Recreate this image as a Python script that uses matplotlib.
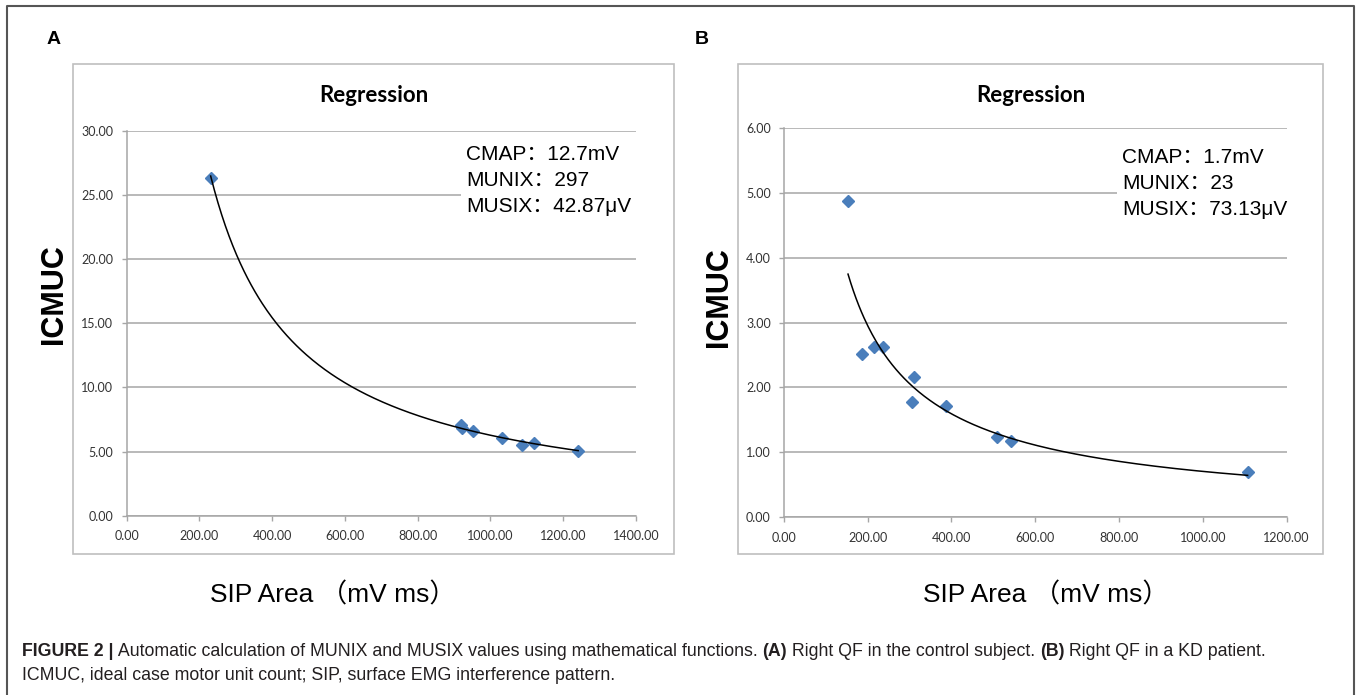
import numpy as np
import matplotlib
matplotlib.use('Agg')
import matplotlib.pyplot as plt
from matplotlib.patches import Rectangle
from matplotlib.lines import Line2D

plt.rcParams['font.family'] = ['Liberation Sans', 'Noto Sans CJK SC', 'DejaVu Sans']

W, H = 1357, 695

# panel A: right QF, control subject
sip_a = [231, 920, 922, 952, 1031, 1088, 1120, 1241]
icmuc_a = [26.3, 7.1, 6.85, 6.63, 6.06, 5.47, 5.65, 5.05]
xticks_a = [0, 200, 400, 600, 800, 1000, 1200, 1400]
yticks_a = [0, 5, 10, 15, 20, 25, 30]
info_a = ['CMAP：12.7mV', 'MUNIX：297', 'MUSIX：42.87μV']

# panel B: right QF, KD patient
sip_b = [153, 186, 216, 236, 310, 305, 387, 509, 542, 1107]
icmuc_b = [4.87, 2.51, 2.62, 2.63, 2.16, 1.78, 1.71, 1.23, 1.17, 0.69]
xticks_b = [0, 200, 400, 600, 800, 1000, 1200]
yticks_b = [0, 1, 2, 3, 4, 5, 6]
info_b = ['CMAP：1.7mV', 'MUNIX：23', 'MUSIX：73.13μV']

GRID = '#a6a6a6'
BLUE = '#4a7ebb'


def fx(x):
    return x / W


def fy(y):
    return 1 - y / H


fig = plt.figure(figsize=(W / 100, H / 100), dpi=100)

# outer frame (open at the bottom)
fig.add_artist(Line2D([fx(7), fx(7), fx(1354), fx(1354)], [0, fy(6), fy(6), 0],
                      transform=fig.transFigure, color='#555555', lw=1.5))


def panel(box, axpos, x, y, xticks, yticks, info, info_xy, letter_xy, letter, ylab_xy, xlab_xy):
    # excel chart frame
    x0, y0, x1, y1 = box
    fig.add_artist(Rectangle((fx(x0), fy(y1)), fx(x1 - x0), (y1 - y0) / H,
                             transform=fig.transFigure, fill=False, edgecolor='#bfbfbf', lw=1.2))
    ax = fig.add_axes(axpos)
    ax.set_xlim(xticks[0], xticks[-1])
    ax.set_ylim(yticks[0], yticks[-1])
    ax.set_xticks(xticks)
    ax.set_yticks(yticks)
    ax.set_xticklabels([f'{v:.2f}' for v in xticks], family='Lato')
    ax.set_yticklabels([f'{v:.2f}' for v in yticks], family='Lato')
    ax.grid(axis='y', color=GRID, lw=1.1)
    ax.set_axisbelow(True)
    for s in ['top', 'right']:
        ax.spines[s].set_visible(False)
    for s in ['left', 'bottom']:
        ax.spines[s].set_color(GRID)
        ax.spines[s].set_linewidth(1.1)
    ax.tick_params(length=3.5, width=1, color=GRID, labelsize=9, labelcolor='#333333')
    ax.tick_params(axis='x', pad=7)
    ax.tick_params(axis='y', pad=6)
    ax.patch.set_alpha(0)

    # power trendline (excel style)
    b, lna = np.polyfit(np.log(x), np.log(y), 1)
    xs = np.linspace(min(x), max(x), 300)
    ax.plot(x, y, 'D', color=BLUE, ms=6.5, mec=BLUE, zorder=3, clip_on=False)
    ax.plot(xs, np.exp(lna) * xs ** b, color='black', lw=1.1, zorder=4)

    fig.text(fx((x0 + x1) / 2), fy(95), 'Regression', family='Lato', weight='bold',
             fontsize=16, ha='center', va='center')
    fig.text(fx(info_xy[0]), fy(info_xy[1]), '\n'.join(info), fontsize=15,
             ha='left', va='top', linespacing=1.48,
             bbox=dict(boxstyle='square,pad=0.25', fc='white', ec='none'))
    fig.text(fx(letter_xy[0]), fy(letter_xy[1]), letter, fontsize=14, weight='bold',
             ha='center', va='center')
    fig.text(fx(ylab_xy[0]), fy(ylab_xy[1]), 'ICMUC', fontsize=22, weight='bold',
             rotation=90, ha='center', va='center')
    fig.text(fx(xlab_xy[0]), fy(xlab_xy[1]), 'SIP Area （mV ms）', fontsize=19,
             ha='center', va='center')
    return ax


panel((73, 64, 674, 554), [0.0933, 0.2580, 0.3754, 0.5540], sip_a, icmuc_a,
      xticks_a, yticks_a, info_a, (466, 145), (54, 40), 'A', (54, 294), (333, 595))
panel((738, 64, 1323, 554), [0.5777, 0.2561, 0.3704, 0.5597], sip_b, icmuc_b,
      xticks_b, yticks_b, info_b, (1122, 148), (702, 40), 'B', (719, 297), (1046, 595))

# caption with mixed weights
renderer = fig.canvas.get_renderer()
line1 = [('FIGURE 2 |', 'bold'),
         (' Automatic calculation of MUNIX and MUSIX values using mathematical functions. ', 'normal'),
         ('(A)', 'bold'), (' Right QF in the control subject. ', 'normal'),
         ('(B)', 'bold'), (' Right QF in a KD patient.', 'normal')]
line2 = [('ICMUC, ideal case motor unit count; SIP, surface EMG interference pattern.', 'normal')]
for parts, ypix in [(line1, 651), (line2, 676)]:
    xcur = fx(22)
    for txt, wt in parts:
        t = fig.text(xcur, fy(ypix), txt, fontsize=12.8, weight=wt, color='#231f20',
                     ha='left', va='center')
        bb = t.get_window_extent(renderer)
        xcur = bb.x1 / W

fig.savefig('out.png', dpi=100)
